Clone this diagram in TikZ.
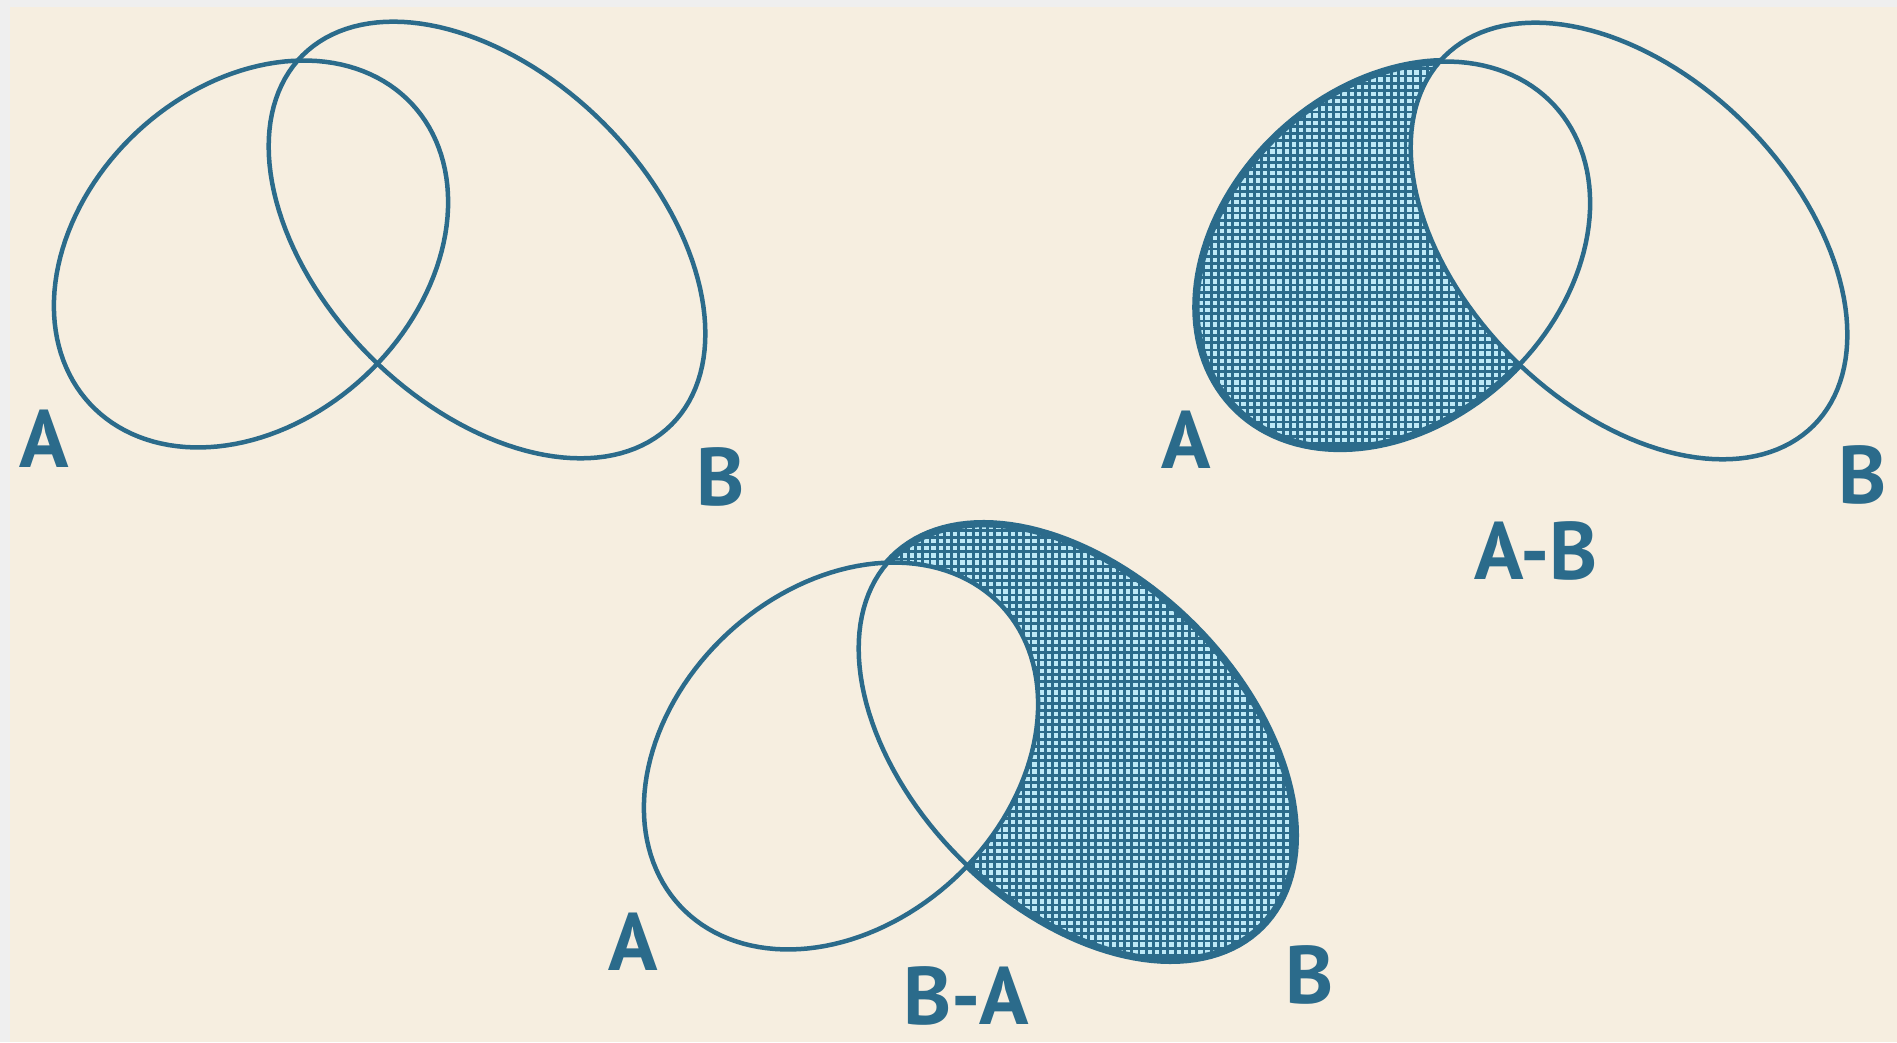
\documentclass[tikz,border=0pt]{standalone}
\usepackage{fontspec}
\setmainfont{PT Sans}
\usetikzlibrary{patterns}
\definecolor{bg}{HTML}{F6EEE0}
\definecolor{edge}{HTML}{EFEFEF}
\definecolor{ink}{HTML}{2B6B8B}
\definecolor{dot}{HTML}{BDE9F7}
\pgfdeclarepatternformonly{sqdots}{\pgfqpoint{-0.1pt}{-0.1pt}}{\pgfqpoint{2.15pt}{2.15pt}}{\pgfqpoint{2.05pt}{2.05pt}}{%
  \pgfpathrectangle{\pgfqpoint{0.4pt}{0.4pt}}{\pgfqpoint{1.25pt}{1.25pt}}\pgfusepath{fill}}
\def\EA{plot[domain=0:360,samples=145,variable=\t]({251+220*cos(\t)*cos(43)-167*sin(\t)*sin(43)},{788+220*cos(\t)*sin(43)+167*sin(\t)*cos(43)}) -- cycle}
\def\EB{plot[domain=0:360,samples=145,variable=\t]({487+261*cos(\t)*cos(-45)-165*sin(\t)*sin(-45)},{802+261*cos(\t)*sin(-45)+165*sin(\t)*cos(-45)}) -- cycle}
\tikzset{
  thinline/.style={draw=ink, line width=1.28pt},
  thickline/.style={draw=ink, line width=2.1pt},
  lbl/.style={inner sep=0pt, anchor=center, text=ink, font=\fontsize{23.2}{26}\selectfont\bfseries},
}
\begin{document}
\begin{tikzpicture}[x=0.01cm, y=0.01cm]
\useasboundingbox (0,0) rectangle (1897,1042);
\fill[edge] (0,0) rectangle (1897,1042);
\fill[bg] (10,0) rectangle (1897,1035);

% top-left: A and B
\begin{scope}
  \path[thinline] \EA;
  \path[thinline] \EB;
  \node[lbl] (tlA) at (44,603) {A};
  \node[lbl] (tlB) at (721,565) {B};
\end{scope}

% top-right: A-B
\begin{scope}[shift={(1142,-1)}]
  \fill[ink] \EA;
  \fill[pattern=sqdots, pattern color=dot] \EA;
  \fill[bg] \EB;
  \path[thickline] \EA;
  \fill[bg] \EB;
  \path[thinline] \EA;
  \path[thinline] \EB;
  \node[lbl] (trA) at (44,603) {A};
  \node[lbl] (trB) at (721,568) {B};
  \node[lbl] (trAB) at (394,492) {A-B};
\end{scope}

% bottom: B-A
\begin{scope}[shift={(590,-502)}]
  \fill[ink] \EB;
  \fill[pattern=sqdots, pattern color=dot] \EB;
  \fill[bg] \EA;
  \path[thickline] \EB;
  \fill[bg] \EA;
  \path[thinline] \EA;
  \path[thinline] \EB;
  \node[lbl] (bA) at (43,602) {A};
  \node[lbl] (bB) at (720,569) {B};
  \node[lbl] (bBA) at (376,548) {B-A};
\end{scope}
\end{tikzpicture}
\end{document}
